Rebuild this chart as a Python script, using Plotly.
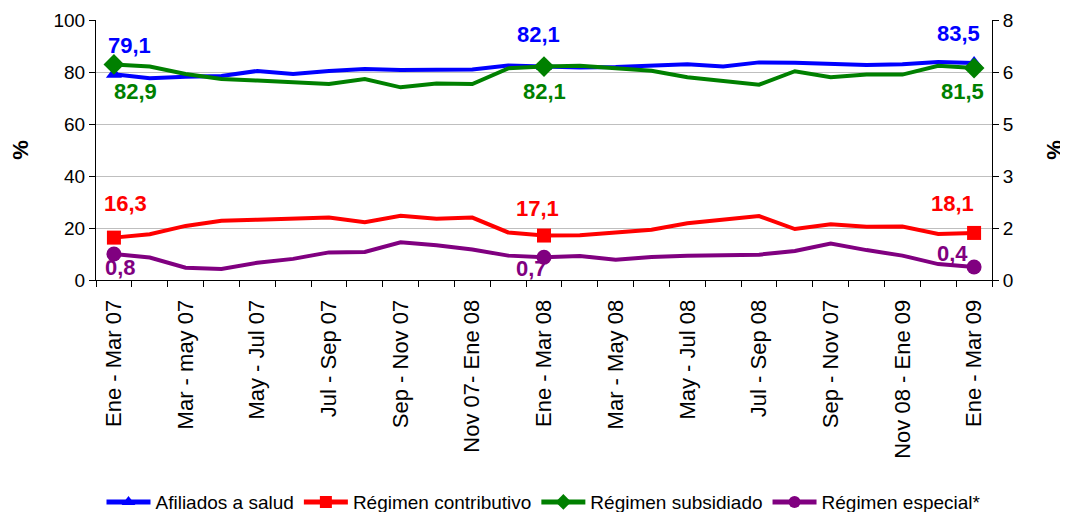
import plotly.graph_objects as go

# rolling three-month periods (25 points)
categories = [
    "Ene - Mar 07", "Feb - Abr 07", "Mar - may 07", "Abr - Jun 07", "May - Jul 07",
    "Jun - Ago 07", "Jul - Sep 07", "Ago - Oct 07", "Sep - Nov 07", "Oct - Dic 07",
    "Nov 07- Ene 08", "Dic 07 - Feb 08", "Ene - Mar 08", "Feb - Abr 08", "Mar - May 08",
    "Abr - Jun 08", "May - Jul 08", "Jun - Ago 08", "Jul - Sep 08", "Ago - Oct 08",
    "Sep - Nov 08", "Oct - Dic 08", "Nov 08 - Ene 09", "Dic 08 - Feb 09", "Ene - Mar 09",
]
# shown tick labels (every other period, as printed in the original)
tick_labels = [
    "Ene - Mar 07", "", "Mar - may 07", "", "May - Jul 07", "", "Jul - Sep 07", "",
    "Sep - Nov 07", "", "Nov 07- Ene 08", "", "Ene - Mar 08", "", "Mar - May 08", "",
    "May - Jul 08", "", "Jul - Sep 08", "", "Sep - Nov 07", "", "Nov 08 - Ene 09", "",
    "Ene - Mar 09",
]

afiliados = [79.1, 77.6, 78.2, 78.5, 80.4, 79.2, 80.4, 81.2, 80.8, 80.8, 81.0, 82.5, 82.1,
             81.7, 81.9, 82.4, 83.0, 82.1, 83.7, 83.6, 83.1, 82.7, 83.0, 83.8, 83.5]
contributivo = [16.3, 17.6, 20.8, 22.8, 23.2, 23.6, 24.0, 22.2, 24.7, 23.6, 24.0, 18.3, 17.1,
                17.2, 18.3, 19.3, 21.8, 23.3, 24.6, 19.6, 21.4, 20.5, 20.6, 17.7, 18.1]
subsidiado = [82.9, 82.1, 79.2, 77.3, 76.7, 76.2, 75.4, 77.3, 74.1, 75.6, 75.4, 81.4, 82.1,
              82.4, 81.4, 80.5, 78.0, 76.5, 75.1, 80.3, 78.0, 79.0, 79.0, 82.4, 81.5]
especial = [0.8, 0.69, 0.38, 0.34, 0.53, 0.65, 0.85, 0.86, 1.16, 1.07, 0.94, 0.75, 0.7,
            0.74, 0.62, 0.71, 0.75, 0.75, 0.78, 0.89, 1.12, 0.92, 0.75, 0.49, 0.4]

labeled_idx = [0, 12, 24]

y2_tickvals = [0, 1.6, 3.2, 4.8, 6.4, 8]
y2_ticktext = ["0", "2", "3", "5", "6", "8"]

FONT = "Liberation Sans, Arial, sans-serif"

series = [
    # name, values, color, symbol, marker size, axis, label offsets (xshift, yshift)
    ("Afiliados a salud", afiliados, "#0000FF", "triangle-up", 14, "y",
     [(16, 29), (-6, 32), (-16, 29)]),
    ("Régimen contributivo", contributivo, "#FF0000", "square", 14, "y",
     [(12, 34), (-7, 27), (-22, 29)]),
    ("Régimen subsidiado", subsidiado, "#008000", "diamond", 16, "y",
     [(22, -27), (0, -25), (-12, -23)]),
    ("Régimen especial*", especial, "#800080", "circle", 15, "y2",
     [(7, -13), (-13, -11), (-22, 14)]),
]

fig = go.Figure()
annotations = []
for name, vals, color, symbol, msize, axis, offsets in series:
    sizes = [msize if i in labeled_idx else 0 for i in range(len(vals))]
    fig.add_trace(go.Scatter(
        x=categories, y=vals, name=name, yaxis=axis,
        mode="lines+markers",
        line=dict(color=color, width=4),
        marker=dict(symbol=symbol, size=sizes, color=color, opacity=1, line=dict(width=0)),
        hoverinfo="skip",
    ))
    for i, (dx, dy) in zip(labeled_idx, offsets):
        annotations.append(dict(
            x=categories[i], y=vals[i], xref="x", yref=axis,
            text=f"{vals[i]:.1f}".replace(".", ","),
            showarrow=False, xshift=dx, yshift=dy,
            font=dict(family=FONT, size=22, color=color, weight="bold"),
        ))

# page body adds an 8px margin, so the figure is 8px smaller on each side
fig.update_layout(
    width=1060, height=504,
    margin=dict(l=88, r=76, t=12, b=232, autoexpand=False),
    paper_bgcolor="white", plot_bgcolor="white",
    font=dict(family=FONT, size=19, color="black"),
    showlegend=True,
    legend=dict(orientation="h", x=0.5, xanchor="center", y=-0.854, yanchor="middle",
                font=dict(size=19), itemsizing="constant", itemwidth=44,
                tracegroupgap=0, traceorder="normal"),
    annotations=annotations,
)
fig.update_xaxes(
    type="category", tickmode="array", tickvals=categories, ticktext=tick_labels,
    tickangle=-90, tickfont=dict(size=22), tickson="boundaries",
    ticks="outside", ticklen=6, tickcolor="black", automargin=False,
    ticklabelstandoff=10,
    showline=True, linecolor="black", linewidth=1, showgrid=False,
    range=[-0.5, len(categories) - 0.5],
)
fig.update_yaxes(
    range=[0, 100], dtick=20, ticks="outside", ticklen=6, tickcolor="black",
    showline=True, linecolor="black", linewidth=1, automargin=False,
    showgrid=True, gridcolor="#BFBFBF", gridwidth=1, zeroline=False,
    title=dict(text="<b>%</b>", font=dict(size=22), standoff=20),
)
fig.update_layout(yaxis2=dict(
    overlaying="y", side="right", range=[0, 8], automargin=False,
    tickmode="array", tickvals=y2_tickvals, ticktext=y2_ticktext,
    ticks="outside", ticklen=6, tickcolor="black",
    showline=True, linecolor="black", linewidth=1, showgrid=False, zeroline=False,
    title=dict(text="<b>%</b>", font=dict(size=22), standoff=34),
))

fig.write_html("out.html")
